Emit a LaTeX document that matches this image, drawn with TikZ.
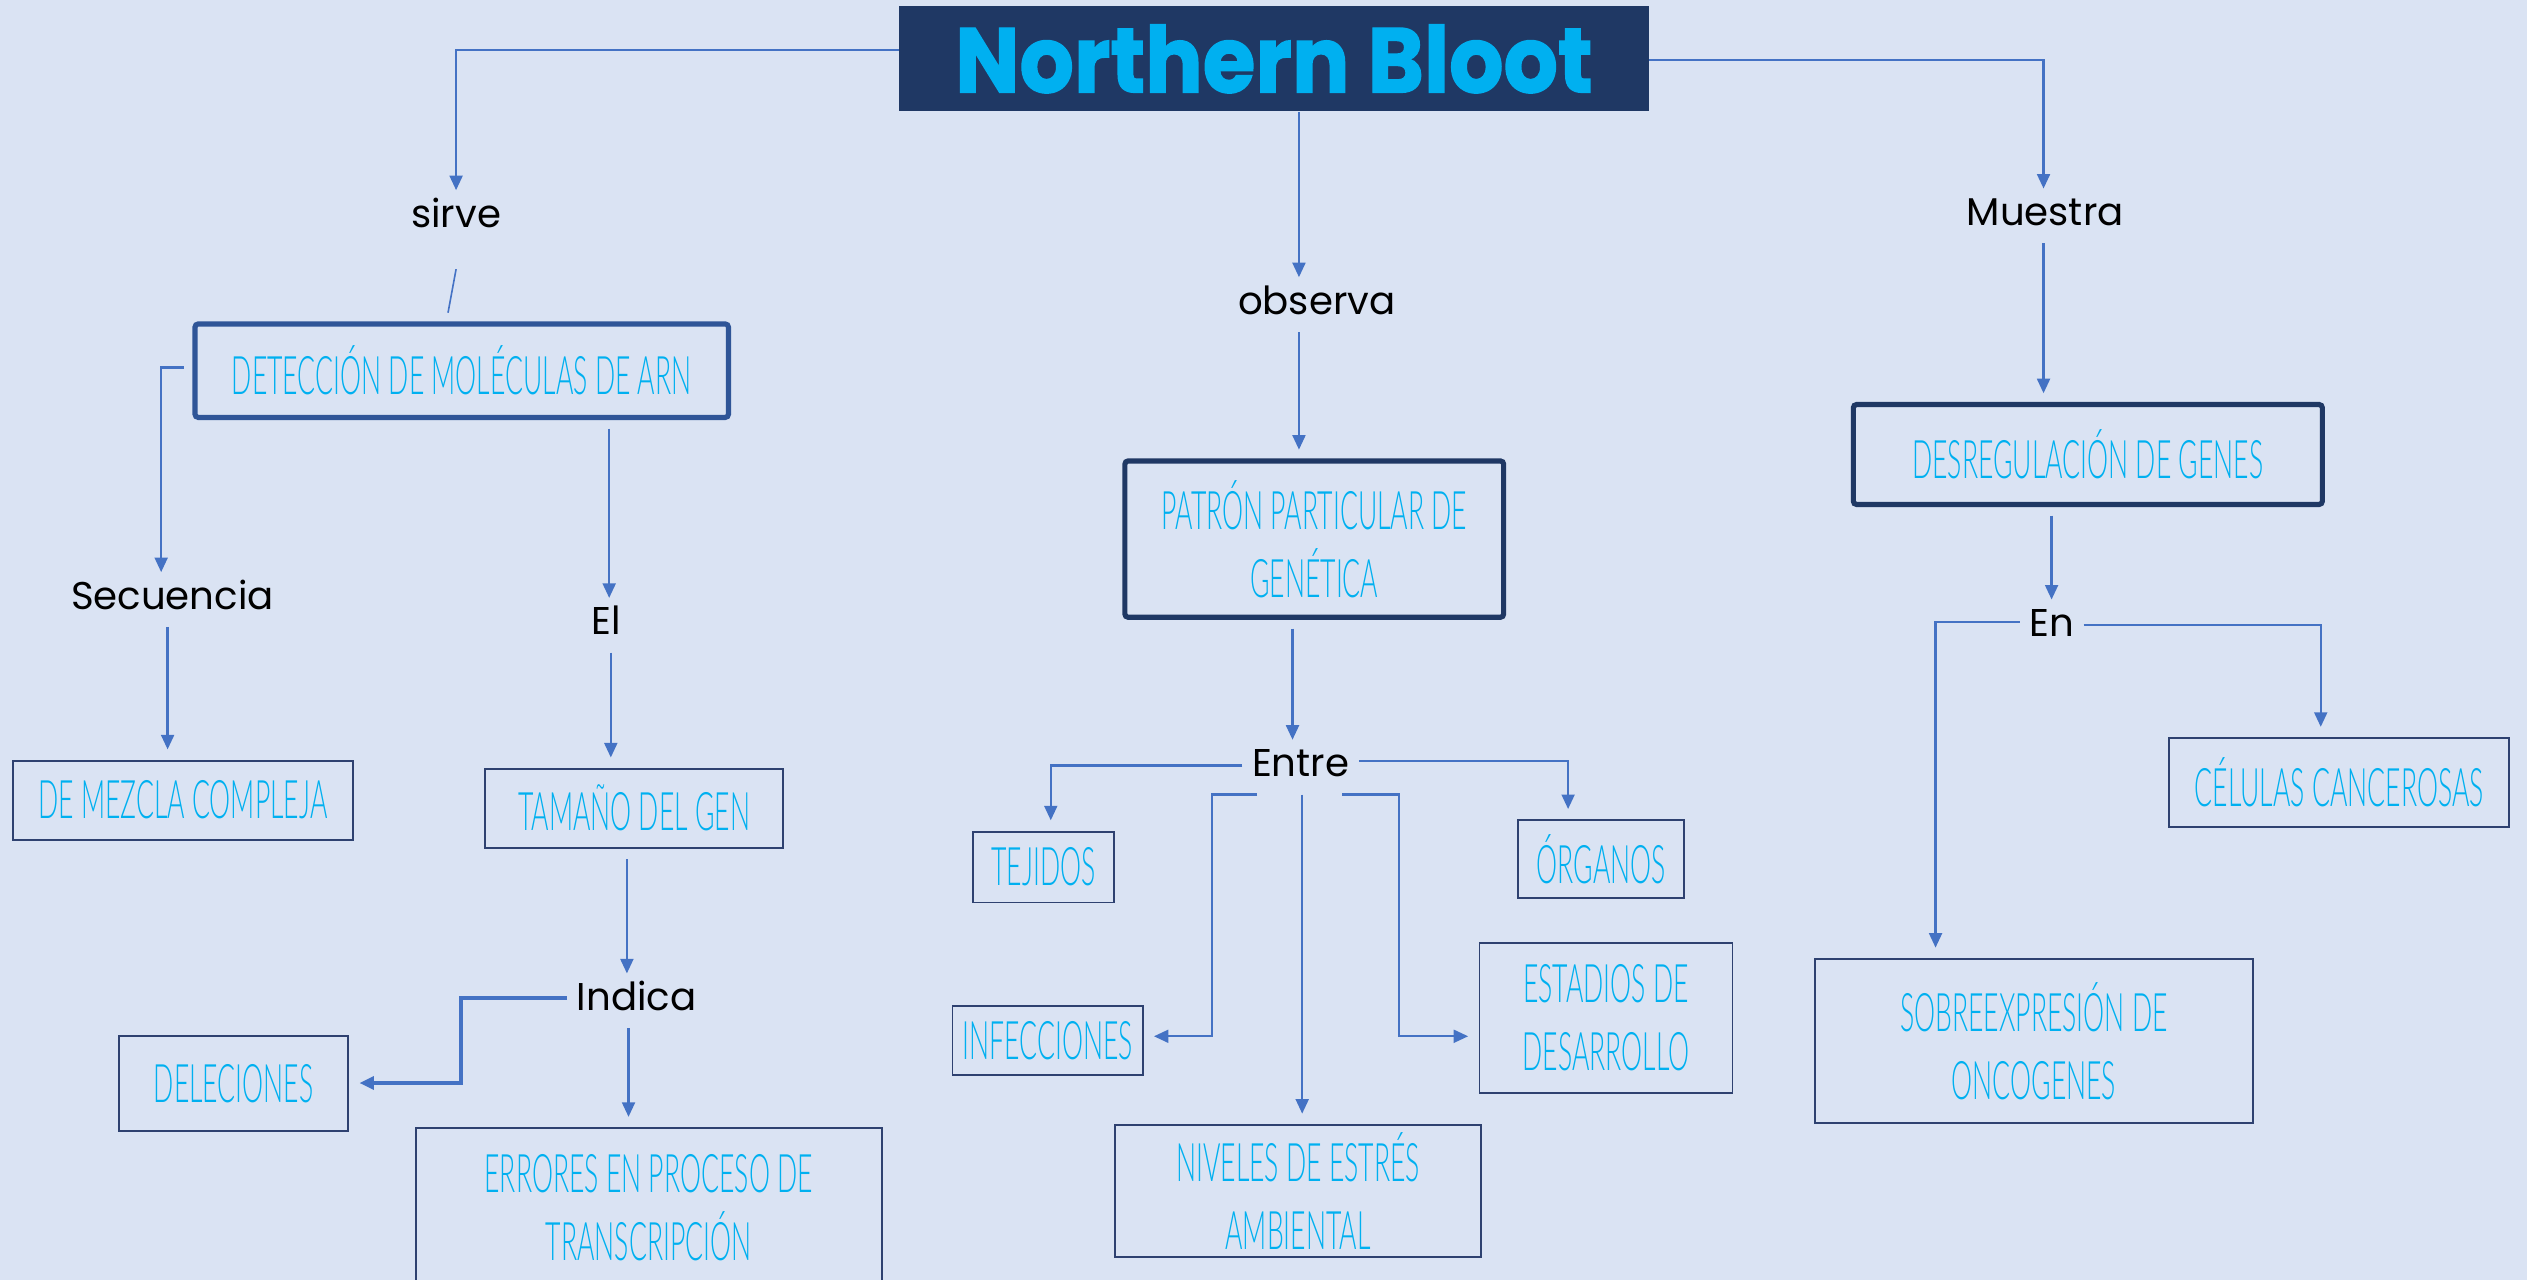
\documentclass[tikz,border=0pt]{standalone}
\usepackage{fontspec}
\setmainfont{Poppins}
\newfontfamily\boxfont[FakeStretch=0.5, UprightFont={* Light}]{Lato}
\newfontfamily\titlefont[BoldFeatures={FakeBold=1.5}]{Poppins}
\usetikzlibrary{arrows.meta}
\definecolor{bgc}{HTML}{DAE3F3}
\definecolor{navy}{HTML}{1F3864}
\definecolor{midblue}{HTML}{2F5597}
\definecolor{cyantext}{HTML}{00B0F0}
\definecolor{conncol}{HTML}{4472C4}
\definecolor{thinb}{HTML}{2E4170}
\begin{document}
\begin{tikzpicture}[x=0.5pt,y=-0.5pt,
  lbl/.style={inner sep=0pt, outer sep=3pt, text height=8.5pt, text depth=2.5pt, font=\fontsize{12}{15}\selectfont, text=black},
  thinbox/.style={draw=thinb, line width=0.6pt, inner sep=0pt, outer sep=3.5pt, font=\boxfont\fontsize{16.5}{21}\selectfont, text=cyantext, align=center},
  thickbox/.style={thinbox, line width=1.6pt, rounded corners=1pt},
  conn/.style={draw=conncol, line width=0.7pt},
  arr/.style={conn, -{Triangle[length=4.5pt,width=4pt]}},
]
\path[use as bounding box] (0,0) rectangle (1568,794);
\clip (0,0) rectangle (1568,794);
\fill[bgc] (0,0) rectangle (1568,794);

% title
\node[fill=navy, minimum width=232.5pt, minimum height=32.5pt, inner sep=0pt, text=cyantext,
  font=\titlefont\fontsize{28.5}{30}\selectfont\bfseries] (title) at (790.5,36.5) {\scalebox{0.93}[1]{Northern Bloot}};

% main boxes
\node[thickbox, draw=midblue, minimum width=165.5pt, minimum height=29pt] (det) at (286.5,230) {DETECCIÓN DE MOLÉCULAS DE ARN};
\node[thickbox, draw=navy, minimum width=117.5pt, minimum height=48.5pt] (pat) at (815.5,334.5) {PATRÓN PARTICULAR DE\\GENÉTICA};
\node[thickbox, draw=navy, minimum width=145.5pt, minimum height=31pt] (des) at (1295.5,282) {DESREGULACIÓN DE GENES};

% thin boxes
\node[thinbox, minimum width=105.5pt, minimum height=24.5pt] (mez) at (113.5,496.5) {DE MEZCLA COMPLEJA};
\node[thinbox, minimum width=92.5pt, minimum height=24.5pt] (tam) at (393.5,501.5) {TAMAÑO DEL GEN};
\node[thinbox, minimum width=71pt, minimum height=29.5pt] (del) at (145,672.5) {DELECIONES};
\node[thinbox, minimum width=144.5pt, minimum height=49.5pt] (err) at (402.5,749.5) {ERRORES EN PROCESO DE\\TRANSCRIPCIÓN};
\node[thinbox, minimum width=43.5pt, minimum height=22pt] (tej) at (647.5,538) {TEJIDOS};
\node[thinbox, minimum width=51.5pt, minimum height=24pt] (org) at (993.5,533) {ÓRGANOS};
\node[thinbox, minimum width=59pt, minimum height=21.5pt] (inf) at (650,645.5) {INFECCIONES};
\node[thinbox, minimum width=78.5pt, minimum height=46.5pt] (est) at (996.5,631.5) {ESTADIOS DE\\DESARROLLO};
\node[thinbox, minimum width=113.5pt, minimum height=41pt] (niv) at (805.5,739) {NIVELES DE ESTRÉS\\AMBIENTAL};
\node[thinbox, minimum width=105.5pt, minimum height=27.5pt] (cel) at (1451.5,485.5) {CÉLULAS CANCEROSAS};
\node[thinbox, minimum width=136pt, minimum height=51pt] (sob) at (1262,646) {SOBREEXPRESIÓN DE\\ONCOGENES};

% labels
\node[lbl] (sirve) at (283,135) {sirve};
\node[lbl] (observa) at (817,189) {observa};
\node[lbl] (muestra) at (1269,134) {Muestra};
\node[lbl] (secuencia) at (107,372) {Secuencia};
\node[lbl] (el) at (376,388) {El};
\node[lbl] (indica) at (395,621) {Indica};
\node[lbl] (entre) at (807,476) {Entre};
\node[lbl] (en) at (1273,389) {En};

% connectors
\draw[arr] (title.west |- 0,31) -| (sirve.north);
\draw[arr] (title.east |- 0,37) -| (muestra.north -| 1268,0);
\draw[arr] (title.south -| 806,0) -- (observa.north -| 806,0);
\draw[conn, line width=0.5pt] (sirve.center |- 0,167) -- (det.north -| 278,0);
\draw[arr] (det.west |- 0,228) -| (secuencia.north -| 100,0);
\draw[arr] (det.south -| 378,0) -- (el.north -| 378,0);
\draw[arr] (secuencia.south -| 104,0) -- (mez.north -| 104,0);
\draw[arr] (el.south -| 379,0) -- (tam.north -| 379,0);
\draw[arr] (tam.south -| 389,0) -- (indica.north -| 389,0);
\draw[arr, line width=1.2pt] (indica.west |- 0,619) -| (286,672) -- (del.east |- 0,672);
\draw[arr] (indica.south -| 390,0) -- (err.north -| 390,0);
\draw[arr] (observa.south -| 806,0) -- (pat.north -| 806,0);
\draw[arr] (pat.south -| 802,0) -- (entre.north -| 802,0);
\draw[arr] (entre.west |- 0,475) -| (tej.north -| 652,0);
\draw[arr] (entre.east |- 0,472) -| (org.north -| 973,0);
\draw[arr] (entre.south -| 780,0) -| (752,643) -- (inf.east |- 0,643);
\draw[arr] (entre.south -| 808,0) -- (niv.north -| 808,0);
\draw[arr] (entre.south -| 833,0) -| (868,643) -- (est.west |- 0,643);
\draw[arr] (muestra.south -| 1268,0) -- (des.north -| 1268,0);
\draw[arr] (des.south -| 1273,0) -- (en.north -| 1273,0);
\draw[arr] (en.west |- 0,386) -| (sob.north -| 1201,0);
\draw[arr] (en.east |- 0,388) -| (cel.north -| 1440,0);
\end{tikzpicture}
\end{document}
